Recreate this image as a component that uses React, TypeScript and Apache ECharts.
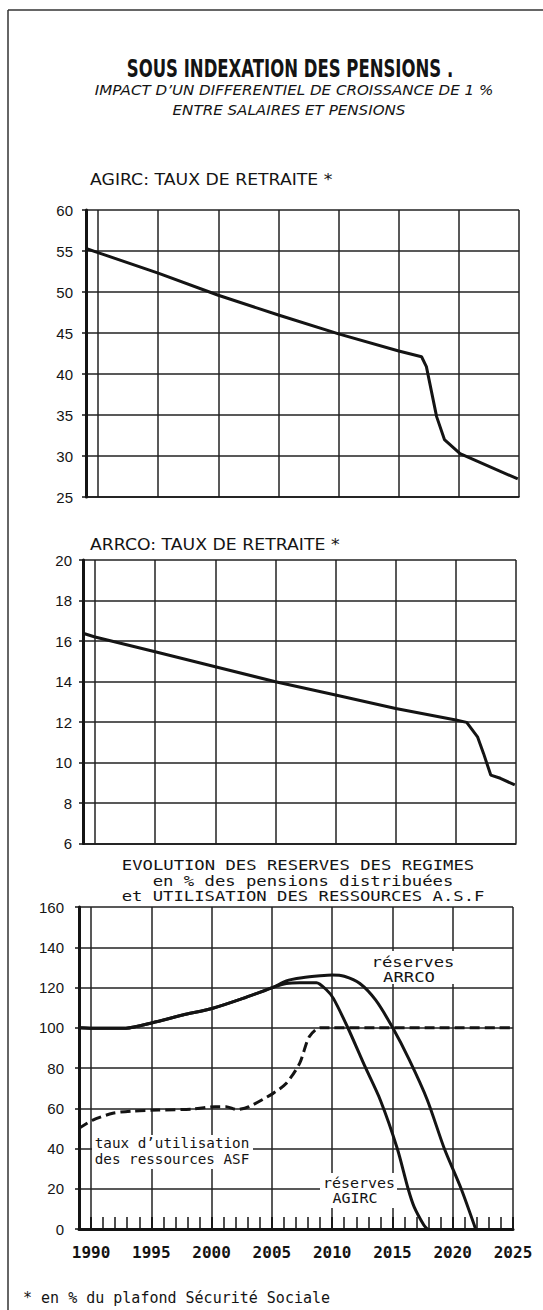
import React, { useEffect, useRef } from "react";
import * as echarts from "echarts";

// ---------- data ----------
const YEAR_MIN = 1989;
const YEAR_MAX = 2025;
const gridYears = [1990, 1995, 2000, 2005, 2010, 2015, 2020, 2025];
const yearTicks = [
  1990, 1991, 1992, 1993, 1994, 1995, 1996, 1997, 1998, 1999, 2000, 2001, 2002,
  2003, 2004, 2005, 2006, 2007, 2008, 2009, 2010, 2011, 2012, 2013, 2014, 2015,
  2016, 2017, 2018, 2019, 2020, 2021, 2022, 2023, 2024, 2025,
];

// AGIRC: taux de retraite
const agircRateYears = [1989, 1990, 1995, 2000, 2005, 2010, 2015, 2016.9, 2017.3, 2018.15, 2018.8, 2020.1, 2024.9];
const agircRateValues = [55.3, 54.8, 52.3, 49.6, 47.2, 44.9, 42.8, 42.1, 40.9, 34.8, 32.0, 30.3, 27.2];

// ARRCO: taux de retraite
const arrcoRateYears = [1989, 1990, 1995, 2000, 2005, 2010, 2015, 2020, 2020.9, 2021.8, 2022.3, 2022.9, 2023.7, 2024.9];
const arrcoRateValues = [16.38, 16.2, 15.47, 14.73, 13.99, 13.33, 12.67, 12.1, 11.98, 11.27, 10.45, 9.38, 9.22, 8.89];

// Réserves ARRCO (% des pensions)
const arrcoResYears = [1989, 1990.5, 1992.9, 1995.1, 1997.6, 2000.1, 2002.6, 2005.1, 2006.2, 2007.5, 2009, 2010, 2011, 2012.3, 2013.6, 2015, 2016.4, 2017.9, 2019.3, 2020.7, 2021.9];
const arrcoResValues = [100, 99.7, 99.8, 102.5, 106.3, 109.7, 114.6, 120.1, 123.3, 124.8, 125.8, 126.2, 125.6, 122, 113.8, 100.2, 84, 64, 40, 20, 0];

// Réserves AGIRC
const agircResYears = [1989, 1990.5, 1992.9, 1995.1, 1997.6, 2000.1, 2002.6, 2005.1, 2006.2, 2007.3, 2008.7, 2009.5, 2010.1, 2011.3, 2012.7, 2014, 2015.4, 2016.3, 2016.8, 2017.6, 2017.9];
const agircResValues = [100, 99.7, 99.8, 102.5, 106.3, 109.7, 114.6, 120.1, 122, 122.4, 122.4, 119, 114.6, 100, 81, 64, 40, 20, 11, 2, 0];

// Taux d'utilisation des ressources ASF
const asfYears = [1989, 1990.1, 1991.8, 1993.4, 1995.6, 1998.4, 2000.3, 2001.2, 2002.1, 2003.1, 2005.1, 2006.2, 2007.3, 2008.1, 2009, 2025];
const asfValues = [50, 54, 57.5, 58.6, 59.1, 59.6, 60.8, 60.8, 59.3, 60.8, 67.4, 72.4, 82.3, 95.5, 100, 100];

const zip = (xs: number[], ys: number[]) => xs.map((x, i) => [x, ys[i]]);

const INK = "#141414";

export default function App() {
  const ref = useRef<HTMLDivElement>(null);

  useEffect(() => {
    if (!ref.current) return;
    const chart = echarts.init(ref.current, undefined, { renderer: "svg" });

    const gridLine = { show: true, lineStyle: { color: "#222", width: 1.5, type: "solid" as const } };
    const yLabel = (margin: number) => ({
      fontFamily: "Liberation Sans",
      fontSize: 15,
      color: INK,
      margin,
    });

    const baseX = (gridIndex: number, extra: any = {}) => ({
      type: "value",
      gridIndex,
      min: YEAR_MIN,
      max: YEAR_MAX,
      axisLine: { show: true, onZero: false, lineStyle: { color: INK, width: 1.5 } },
      axisTick: { show: true, inside: true, length: 0, customValues: gridYears },
      axisLabel: { show: false },
      splitLine: gridLine,
      ...extra,
    });

    const baseY = (gridIndex: number, min: number, max: number, interval: number, margin: number) => ({
      type: "value",
      gridIndex,
      min,
      max,
      interval,
      axisLine: { show: true, lineStyle: { color: INK, width: 3 } },
      axisTick: { show: true, length: 4, lineStyle: { color: INK, width: 1.5 } },
      axisLabel: yLabel(margin),
      splitLine: gridLine,
    });

    const solid = (w = 3) => ({ color: INK, width: w });

    const txt = (
      text: string,
      x: number,
      y: number,
      font: string,
      align: string = "center",
      scaleX = 1
    ) => ({
      type: "text",
      x,
      y,
      scaleX,
      z: 100,
      style: {
        text,
        font,
        fill: INK,
        textAlign: align,
        textVerticalAlign: "middle",
      },
    });

    const box = (x: number, y: number, w: number, h: number) => ({
      type: "rect",
      z: 90,
      shape: { x, y, width: w, height: h },
      style: { fill: "#fff", stroke: null },
    });

    const mono = (size: number, weight = "normal") => `${weight} ${size}px "DejaVu Sans Mono"`;

    chart.setOption({
      animation: false,
      backgroundColor: "#fff",
      grid: [
        { left: 86, top: 210, width: 433, height: 287 },
        { left: 83, top: 560, width: 433, height: 283.5 },
        { left: 79, top: 907, width: 434, height: 322 },
      ],
      xAxis: [
        baseX(0),
        baseX(1),
        baseX(2, {
          axisLine: { show: true, onZero: false, lineStyle: { color: INK, width: 3 } },
          axisTick: { show: true, inside: true, length: 12, customValues: gridYears, lineStyle: { color: INK, width: 1.5 } },
          axisLabel: {
            show: true,
            customValues: gridYears,
            formatter: (v: number) => String(Math.round(v)),
            fontFamily: "DejaVu Sans Mono",
            fontWeight: "bold",
            fontSize: 16,
            color: INK,
            margin: 15,
          },
        }),
        {
          type: "value",
          gridIndex: 2,
          position: "bottom",
          min: YEAR_MIN,
          max: YEAR_MAX,
          axisLine: { show: false },
          axisTick: { show: true, inside: true, length: 12, customValues: yearTicks, lineStyle: { color: INK, width: 1.5 } },
          axisLabel: { show: false },
          splitLine: { show: false },
        },
      ],
      yAxis: [
        baseY(0, 25, 60, 5, 13),
        baseY(1, 6, 20, 2, 11),
        baseY(2, 0, 160, 20, 15),
      ],
      series: [
        {
          name: "AGIRC taux",
          type: "line",
          xAxisIndex: 0,
          yAxisIndex: 0,
          data: zip(agircRateYears, agircRateValues),
          symbol: "none",
          lineStyle: solid(3),
          z: 5,
        },
        {
          name: "ARRCO taux",
          type: "line",
          xAxisIndex: 1,
          yAxisIndex: 1,
          data: zip(arrcoRateYears, arrcoRateValues),
          symbol: "none",
          lineStyle: solid(3),
          z: 5,
        },
        {
          name: "réserves ARRCO",
          type: "line",
          xAxisIndex: 2,
          yAxisIndex: 2,
          data: zip(arrcoResYears, arrcoResValues),
          symbol: "none",
          smooth: 0.25,
          lineStyle: solid(3),
          z: 5,
        },
        {
          name: "réserves AGIRC",
          type: "line",
          xAxisIndex: 2,
          yAxisIndex: 2,
          data: zip(agircResYears, agircResValues),
          symbol: "none",
          smooth: 0.25,
          lineStyle: solid(3),
          z: 5,
        },
        {
          name: "taux d'utilisation des ressources ASF",
          type: "line",
          xAxisIndex: 2,
          yAxisIndex: 2,
          data: zip(asfYears, asfValues),
          symbol: "none",
          smooth: 0.25,
          lineStyle: { color: INK, width: 3, type: [10, 5] },
          z: 5,
        },
      ],
      graphic: [
        // page frame
        { type: "line", z: 100, shape: { x1: 8, y1: 10, x2: 8, y2: 1310 }, style: { stroke: "#333", lineWidth: 1.5 } },
        { type: "line", z: 100, shape: { x1: 8, y1: 10, x2: 543, y2: 10 }, style: { stroke: "#333", lineWidth: 1.5 } },
        // titles
        txt("SOUS INDEXATION DES PENSIONS .", 290, 68, 'bold 25px "DejaVu Sans"', "center", 0.66),
        txt("IMPACT D’UN DIFFERENTIEL DE CROISSANCE DE 1 %", 294, 90, 'italic 14px "DejaVu Sans"', "center", 1.08),
        txt("ENTRE SALAIRES ET PENSIONS", 289, 110, 'italic 14px "DejaVu Sans"', "center", 1.08),
        txt("AGIRC: TAUX DE RETRAITE *", 90, 180, '16px "DejaVu Sans"', "left", 1.08),
        txt("ARRCO: TAUX DE RETRAITE *", 90, 545, '16px "DejaVu Sans"', "left", 1.08),
        txt("EVOLUTION DES RESERVES DES REGIMES", 298, 865, mono(14), "center", 1.23),
        txt("en % des pensions distribuées", 303, 881, mono(14), "center", 1.23),
        txt("et UTILISATION DES RESSOURCES A.S.F", 303, 896, mono(14), "center", 1.23),
        // annotations
        box(370, 951, 87, 33),
        txt("réserves", 413, 962, mono(14), "center", 1.23),
        txt("ARRCO", 409, 977, mono(14), "center", 1.23),
        box(92, 1135, 161, 34),
        txt("taux d’utilisation", 172, 1143, mono(14), "center", 1.02),
        txt("des ressources ASF", 172, 1159, mono(14), "center", 1.02),
        box(320, 1173, 77, 35),
        txt("réserves", 359, 1183, mono(14), "center", 1.07),
        txt("AGIRC", 355, 1198, mono(14), "center", 1.07),
        // footnote
        txt("* en % du plafond Sécurité Sociale", 23, 1298, mono(15), "left", 1),
      ],
    });

    return () => chart.dispose();
  }, []);

  return (
    <div
      ref={ref}
      style={{ position: "absolute", left: 0, top: 0, width: 543, height: 1310, background: "#fff" }}
    />
  );
}
